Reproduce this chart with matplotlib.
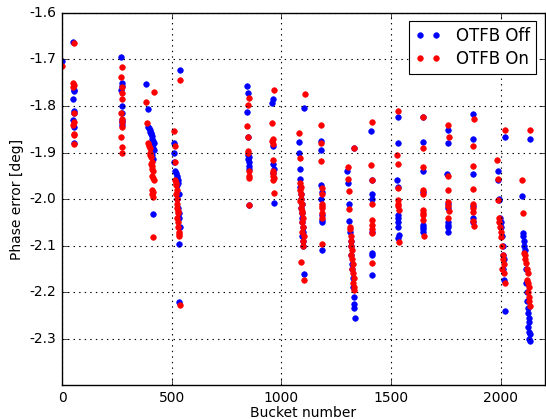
import matplotlib
matplotlib.use("Agg")
import matplotlib.pyplot as plt
import numpy as np

plt.style.use("classic")

# ---- data: OTFB Off (blue) ----
off_bucket = [2,
    52, 53, 54, 52, 53, 54, 52, 53, 54,
    270, 272, 273, 271, 272, 274, 272, 273, 272,
    385, 390, 393, 397, 400, 403, 405, 407, 409, 411, 413, 415, 417, 412, 414, 418, 410, 413, 415,
    538, 510, 511, 512, 516, 519, 522, 524, 527, 530, 526, 531, 524, 528, 532, 534, 537, 535, 535,
    843, 848, 845, 846, 848, 850, 849, 851, 850, 852, 851,
    962, 958, 960, 962, 964, 963, 965,
    1105, 1078, 1080, 1083, 1086, 1084, 1088, 1090, 1092, 1089, 1094, 1096, 1093, 1097, 1099, 1095, 1100, 1098, 1105,
    1180, 1182, 1181, 1183, 1182, 1184, 1183, 1185, 1184,
    1330, 1300, 1304, 1307, 1310, 1312, 1315, 1318, 1316, 1320, 1323, 1325, 1327, 1330, 1329, 1333, 1335,
    1410, 1411, 1412, 1413, 1412, 1414, 1413, 1415,
    1531, 1530, 1529, 1530, 1532, 1531, 1533, 1532, 1534, 1533,
    1645, 1644, 1646, 1645, 1646, 1645, 1647, 1646,
    1760, 1759, 1757, 1760, 1761, 1759, 1760, 1761, 1760,
    1875, 1873, 1872, 1874, 1873, 1874,
    2019, 1985, 1987, 1990, 1993, 1996, 1999, 2002, 2005, 2008, 2010, 2013, 2012, 2015, 2020,
    2133, 2098, 2100, 2102, 2105, 2107, 2110, 2113, 2116, 2118, 2120, 2124, 2126, 2128, 2130, 2125, 2129, 2131, 2127, 2132]
off_phase = [-1.703,
    -1.663, -1.765, -1.768, -1.785, -1.810, -1.815, -1.830, -1.845, -1.880,
    -1.695, -1.750, -1.758, -1.765, -1.800, -1.815, -1.830, -1.835, -1.840,
    -1.752, -1.807, -1.845, -1.848, -1.852, -1.855, -1.858, -1.860, -1.865, -1.870, -1.875, -1.878, -1.880, -1.885, -1.890, -1.895, -1.905, -1.915, -2.032,
    -1.722, -1.879, -1.900, -1.920, -1.940, -1.945, -1.950, -1.955, -1.960, -1.965, -1.970, -1.990, -2.000, -2.020, -2.030, -2.040, -2.060, -2.097, -2.221,
    -1.758, -1.771, -1.813, -1.867, -1.905, -1.910, -1.915, -1.920, -1.930, -1.935, -2.012,
    -1.784, -1.794, -1.886, -1.925, -1.935, -1.945, -2.009,
    -1.804, -1.877, -1.902, -1.936, -1.956, -1.975, -1.990, -2.000, -2.010, -2.020, -2.030, -2.040, -2.050, -2.060, -2.070, -2.080, -2.090, -2.100, -2.162,
    -1.875, -1.895, -1.970, -1.985, -2.000, -2.035, -2.045, -2.050, -2.110,
    -1.890, -1.940, -1.965, -2.010, -2.047, -2.070, -2.090, -2.100, -2.120, -2.140, -2.150, -2.170, -2.190, -2.210, -2.226, -2.235, -2.256,
    -1.853, -1.960, -1.990, -2.000, -2.070, -2.115, -2.120, -2.163,
    -1.824, -1.879, -1.960, -1.975, -2.035, -2.040, -2.050, -2.060, -2.077, -2.083,
    -1.823, -1.878, -1.940, -1.985, -2.056, -2.060, -2.065, -2.071,
    -1.852, -1.880, -1.946, -2.010, -2.020, -2.050, -2.055, -2.060, -2.070,
    -1.817, -1.871, -1.946, -2.015, -2.040, -2.050,
    -1.866, -1.940, -1.960, -2.000, -2.003, -2.040, -2.050, -2.060, -2.080, -2.100, -2.120, -2.130, -2.150, -2.175, -2.240,
    -1.871, -1.994, -2.073, -2.080, -2.090, -2.100, -2.110, -2.150, -2.180, -2.200, -2.220, -2.235, -2.245, -2.255, -2.265, -2.275, -2.285, -2.290, -2.300, -2.305]

# ---- data: OTFB On (red) ----
on_bucket = [0,
    53, 52, 53, 52, 53, 54, 52, 53, 54, 54,
    274, 271, 272, 273, 272, 271, 273, 272, 274, 271, 273, 274,
    420, 385, 388, 393, 397, 400, 403, 401, 405, 408, 406, 410, 409, 413, 411, 415, 417, 410, 414, 411, 416, 415,
    540, 512, 513, 515, 517, 519, 521, 523, 520, 524, 526, 522, 527, 529, 525, 530, 528, 532, 531, 533, 537,
    850, 846, 845, 847, 848, 849, 850, 851, 852, 850,
    965, 958, 960, 959, 961, 962, 961, 963, 962, 964, 963, 965,
    1107, 1080, 1083, 1085, 1087, 1084, 1089, 1091, 1086, 1093, 1090, 1095, 1092, 1097, 1094, 1099, 1096, 1101, 1098, 1100, 1088, 1105,
    1181, 1180, 1182, 1183, 1184, 1183, 1185, 1184, 1186, 1185, 1184,
    1330, 1302, 1305, 1308, 1310, 1312, 1314, 1317, 1315, 1319, 1321, 1318, 1323, 1325, 1322, 1327, 1329, 1326, 1331, 1333,
    1412, 1409, 1411, 1412, 1413, 1414, 1413, 1415, 1414,
    1531, 1529, 1530, 1531, 1532, 1533, 1532, 1534, 1535,
    1645, 1644, 1646, 1645, 1647, 1646, 1645, 1647, 1646, 1648,
    1758, 1762, 1760, 1759, 1761, 1760, 1762, 1761,
    1876, 1872, 1873, 1875, 1874, 1873, 1875, 1874, 1876,
    2019, 1983, 1985, 1988, 1990, 1993, 1996, 1999, 2002, 2005, 2008, 2010, 2013, 2007, 2015, 2020,
    2133, 2097, 2100, 2105, 2108, 2112, 2115, 2119, 2122, 2120, 2125, 2128, 2123, 2130, 2127, 2133]
on_phase = [-1.715,
    -1.665, -1.750, -1.755, -1.760, -1.815, -1.835, -1.840, -1.860, -1.862, -1.882,
    -1.716, -1.737, -1.760, -1.771, -1.784, -1.815, -1.828, -1.835, -1.845, -1.866, -1.889, -1.900,
    -1.770, -1.791, -1.836, -1.880, -1.885, -1.890, -1.900, -1.905, -1.910, -1.920, -1.925, -1.930, -1.935, -1.940, -1.950, -1.955, -1.960, -1.980, -1.985, -1.990, -1.995, -2.082,
    -1.744, -1.853, -1.886, -1.920, -1.960, -1.965, -1.970, -1.980, -1.990, -2.000, -2.010, -2.020, -2.025, -2.030, -2.040, -2.050, -2.060, -2.070, -2.075, -2.080, -2.228,
    -1.783, -1.797, -1.843, -1.867, -1.897, -1.900, -1.940, -1.950, -1.955, -2.013,
    -1.766, -1.837, -1.871, -1.876, -1.882, -1.916, -1.940, -1.945, -1.950, -1.955, -1.960, -1.986,
    -1.774, -1.858, -1.912, -1.966, -1.975, -1.980, -1.990, -2.000, -2.005, -2.010, -2.020, -2.025, -2.030, -2.040, -2.050, -2.060, -2.070, -2.080, -2.090, -2.100, -2.135, -2.175,
    -1.840, -1.880, -1.919, -1.977, -1.990, -2.010, -2.015, -2.020, -2.030, -2.040, -2.097,
    -1.890, -1.931, -1.957, -1.983, -2.022, -2.060, -2.065, -2.080, -2.090, -2.100, -2.110, -2.120, -2.130, -2.140, -2.150, -2.160, -2.170, -2.180, -2.190, -2.195,
    -1.834, -1.926, -1.960, -2.010, -2.045, -2.055, -2.065, -2.073, -2.137,
    -1.810, -1.905, -1.925, -1.977, -2.003, -2.010, -2.015, -2.024, -2.092,
    -1.823, -1.890, -1.931, -1.980, -1.990, -2.024, -2.030, -2.035, -2.045, -2.080,
    -1.841, -1.866, -1.950, -1.980, -2.006, -2.015, -2.025, -2.040,
    -1.828, -1.885, -1.928, -1.978, -2.010, -2.020, -2.028, -2.047, -2.058,
    -1.852, -1.916, -1.957, -2.002, -2.040, -2.050, -2.060, -2.070, -2.081, -2.100, -2.120, -2.130, -2.140, -2.150, -2.160, -2.180,
    -1.852, -1.959, -2.030, -2.116, -2.120, -2.130, -2.138, -2.150, -2.160, -2.175, -2.180, -2.190, -2.200, -2.210, -2.220, -2.230]

x_ticks = [0, 500, 1000, 1500, 2000]
y_ticks = [-2.3, -2.2, -2.1, -2.0, -1.9, -1.8, -1.7, -1.6]

fig = plt.figure(figsize=(5.46, 4.19), dpi=100, facecolor="white")
ax = fig.add_axes([0.1136, 0.081, 0.884, 0.888])
ax.plot(off_bucket, off_phase, "o", color=(0, 0, 1), markeredgecolor=(0, 0, 1),
        markersize=4.0, markeredgewidth=0.5, label="OTFB Off")
ax.plot(on_bucket, on_phase, "o", color=(1, 0, 0), markeredgecolor=(1, 0, 0),
        markersize=4.0, markeredgewidth=0.5, label="OTFB On")
ax.set_xlim(0, 2200)
ax.set_ylim(-2.4, -1.6)
ax.set_xticks(x_ticks)
ax.set_yticks(y_ticks)
ax.set_yticklabels(["%.1f" % v for v in y_ticks])
ax.tick_params(labelsize=10)
ax.grid(True, color="black", linestyle=":", linewidth=0.8)
ax.set_xlabel("Bucket number", fontsize=10, labelpad=1)
ax.set_ylabel("Phase error [deg]", fontsize=10, labelpad=4)
leg = ax.legend(loc="upper right", numpoints=2, fontsize=12, fancybox=False,
                borderaxespad=0.5, handletextpad=0.9, labelspacing=0.3,
                borderpad=0.35, handlelength=1.6)
leg.get_frame().set_linewidth(0.8)
fig.savefig("out.png", dpi=100, facecolor="white")
